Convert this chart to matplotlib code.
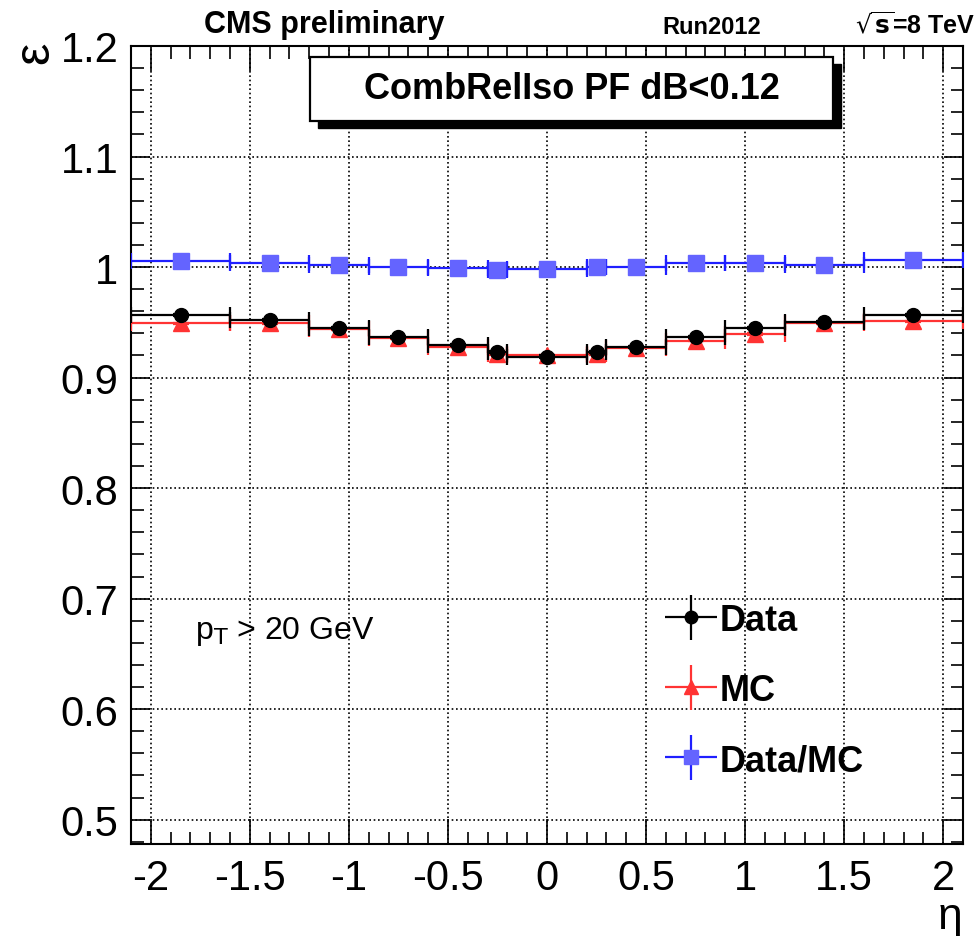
import numpy as np
import matplotlib
matplotlib.use('Agg')
import matplotlib.pyplot as plt
from matplotlib.patches import Rectangle
from matplotlib.ticker import MultipleLocator, FormatStrFormatter
from matplotlib.legend_handler import HandlerErrorbar

# eta binning and efficiencies
eta_edges = [-2.1, -1.6, -1.2, -0.9, -0.6, -0.3, -0.2, 0.2, 0.3, 0.6, 0.9, 1.2, 1.6, 2.1]
eff_data = [0.9566, 0.9520, 0.9446, 0.9364, 0.9295, 0.9228, 0.9190,
            0.9228, 0.9280, 0.9364, 0.9446, 0.9506, 0.9566]
eff_mc = [0.9490, 0.9490, 0.9440, 0.9355, 0.9280, 0.9213, 0.9200,
          0.9213, 0.9270, 0.9334, 0.9394, 0.9494, 0.9510]
ratio = [1.0057, 1.0033, 1.0020, 1.0000, 0.9988, 0.9973, 0.9980,
         1.0000, 1.0000, 1.0036, 1.0036, 1.0020, 1.0063]
err_data = [0.0010] * 13
err_mc = [0.0005] * 13
err_ratio = [0.0010] * 13

plt.rcParams['font.family'] = ['Liberation Sans', 'DejaVu Sans']

W, H = 978, 937
fig = plt.figure(figsize=(W / 100, H / 100), dpi=100)
ax = fig.add_axes([131 / W, 1 - 845 / H, (963 - 131) / W, (845 - 47) / H])

edges = np.array(eta_edges)
x = (edges[1:] + edges[:-1]) / 2
xerr = (edges[1:] - edges[:-1]) / 2

red = '#ff3333'
blue_line = '#1f1fff'
blue_mark = '#6464ff'

ax.errorbar(x, eff_mc, xerr=xerr, yerr=err_mc, fmt='^', color=red, ms=11,
            lw=1.6, capsize=6, capthick=1.6, zorder=3)
ax.errorbar(x, eff_data, xerr=xerr, yerr=err_data, fmt='o', color='black', ms=10,
            lw=1.6, capsize=6, capthick=1.6, zorder=4)
ax.errorbar(x, ratio, xerr=xerr, yerr=err_ratio, fmt='s', color=blue_line,
            mfc=blue_mark, mec=blue_mark, ms=11, lw=1.6, capsize=6, capthick=1.6, zorder=5)

ax.set_xlim(-2.1, 2.1)
ax.set_ylim(0.478, 1.2)
ax.xaxis.set_major_locator(MultipleLocator(0.5))
ax.xaxis.set_minor_locator(MultipleLocator(0.1))
ax.yaxis.set_major_locator(MultipleLocator(0.1))
ax.yaxis.set_minor_locator(MultipleLocator(0.02))
ax.xaxis.set_major_formatter(FormatStrFormatter('%g'))
ax.yaxis.set_major_formatter(FormatStrFormatter('%g'))
ax.tick_params(which='both', direction='in', top=True, right=True, width=1.2,
               labelsize=30)
ax.tick_params(axis='x', which='major', length=18, pad=10)
ax.tick_params(axis='y', which='major', length=14, pad=9)
ax.tick_params(which='minor', length=9)
for s in ax.spines.values():
    s.set_linewidth(1.5)
ax.grid(True, which='major', color='black', linestyle=(0, (1, 1.6)), linewidth=1.2)
ax.set_axisbelow(True)

# legend with cross-shaped handles
h_data = ax.errorbar([np.nan], [np.nan], xerr=[1], yerr=[1], fmt='o', color='black', ms=9, lw=1.6)
h_mc = ax.errorbar([np.nan], [np.nan], xerr=[1], yerr=[1], fmt='^', color=red, ms=10, lw=1.6)
h_ratio = ax.errorbar([np.nan], [np.nan], xerr=[1], yerr=[1], fmt='s', color=blue_line,
                      mfc=blue_mark, mec=blue_mark, ms=10, lw=1.6)
leg = ax.legend([h_data, h_mc, h_ratio], ['Data', 'MC', 'Data/MC'],
                loc='upper left', bbox_to_anchor=((667 - 131) / 832, (845 - 604) / 798),
                frameon=False, prop={'weight': 'bold', 'size': 26},
                handlelength=1.35, handletextpad=0.12, labelspacing=0.97,
                borderpad=0, borderaxespad=0,
                handler_map={type(h_data): HandlerErrorbar(xerr_size=0.72, yerr_size=0.62)})

# header texts
fig.text(324 / W, 1 - 25 / H, 'CMS preliminary', ha='center', va='center',
         fontsize=22, fontweight='bold')
fig.text(712 / W, 1 - 27 / H, 'Run2012', ha='center', va='center',
         fontsize=17, fontweight='bold')
fig.text(975 / W, 1 - 25 / H, r'$\sqrt{\mathbf{s}}$=8 TeV', ha='right', va='center',
         fontsize=18, fontweight='bold')

# title box with shadow
bx0, bx1, by0, by1 = 310, 833, 58, 122
fig.add_artist(Rectangle(((bx0 + 8) / W, 1 - (by1 + 7) / H), (bx1 - bx0) / W, (by1 - by0) / H,
                         transform=fig.transFigure, facecolor='black', edgecolor='black', zorder=10))
fig.add_artist(Rectangle((bx0 / W, 1 - by1 / H), (bx1 - bx0) / W, (by1 - by0) / H,
                         transform=fig.transFigure, facecolor='white', edgecolor='black',
                         linewidth=1.6, zorder=11))
fig.text((bx0 + bx1) / 2 / W, 1 - (by0 + by1) / 2 / H, 'CombRelIso PF dB<0.12',
         ha='center', va='center', fontsize=26, fontweight='bold', zorder=12)

fig.text(195 / W, 1 - 632 / H, r'p$_{\mathrm{T}}$ > 20 GeV', ha='left', va='center', fontsize=23)

# axis titles
fig.text(35 / W, 1 - 53 / H, 'ε', rotation=90, ha='center', va='center', fontsize=36)
fig.text(950 / W, 1 - 918 / H, 'η', ha='center', va='center', fontsize=32)

fig.savefig('out.png', dpi=100)
